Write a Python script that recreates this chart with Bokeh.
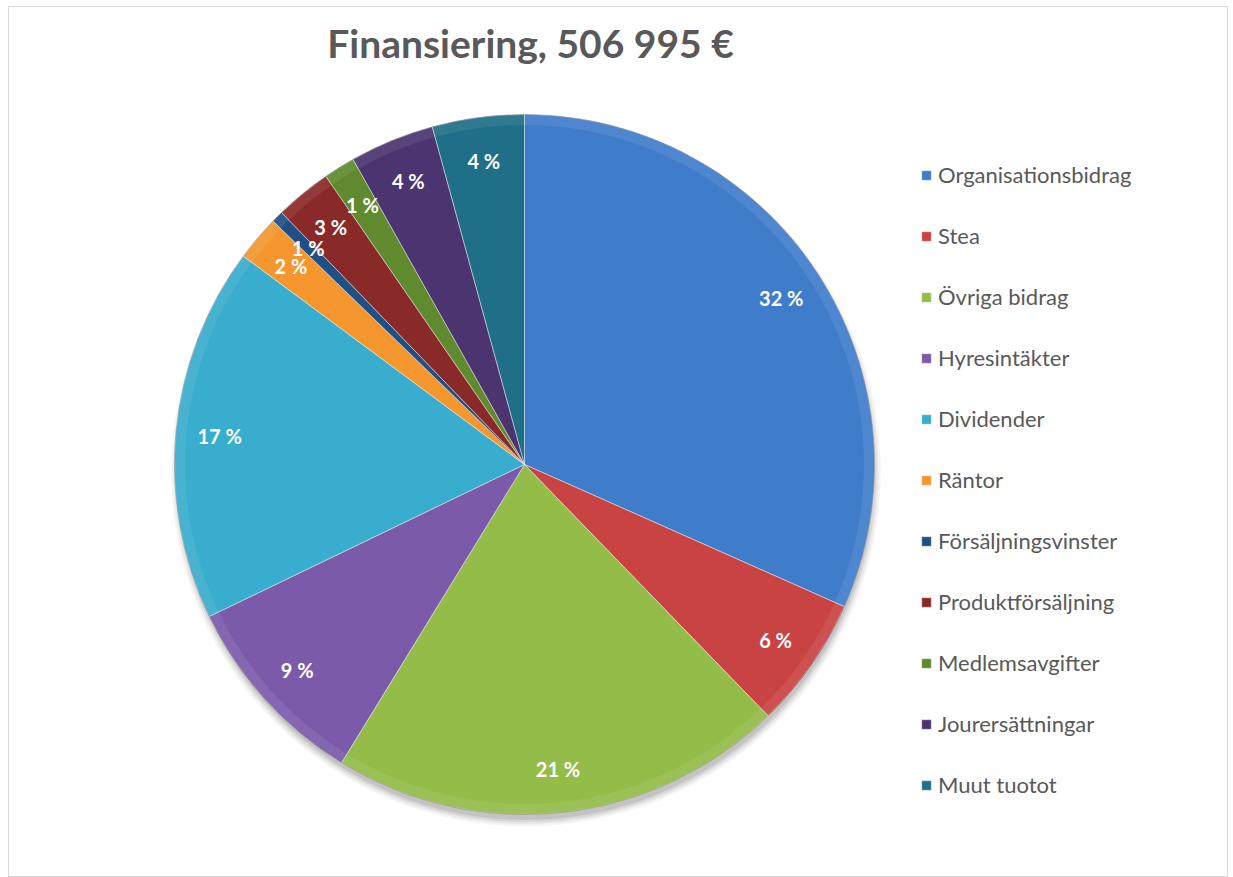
import math
import numpy as np
from bokeh.plotting import figure
from bokeh.models import ColumnDataSource, Range1d, Legend, LegendItem, Label
from bokeh.core.properties import value
from bokeh.embed import file_html
from bokeh.resources import INLINE

# ---- data ----
title_text = "Finansiering, 506 995 €"
categories = ["Organisationsbidrag", "Stea", "Övriga bidrag", "Hyresintäkter",
              "Dividender", "Räntor", "Försäljningsvinster", "Produktförsäljning",
              "Medlemsavgifter", "Jourersättningar", "Muut tuotot"]
amounts = [160495, 30900, 106500, 46100, 87700, 10600, 2800, 13200, 7400, 19800, 21500]
colors = ["#3F7DCB", "#C94343", "#93BC48", "#7B5AAA", "#38ADCE", "#F5962E",
          "#204F85", "#8A2A28", "#5F8A2E", "#4B3470", "#1E6F87"]

# ---- geometry (pixels) ----
FW, FH = 1220, 871          # frame size
LB, TB = 8, 6               # left / top border
R_PX = 350.0
CX, CY = 516.0, 458.0       # pie centre in frame px from frame top-left

vals = np.array(amounts, dtype=float)
frac = vals / vals.sum()
cum = np.concatenate([[0.0], np.cumsum(frac)])
start = math.pi / 2 - 2 * math.pi * cum[:-1]
end = math.pi / 2 - 2 * math.pi * cum[1:]
mid = (start + end) / 2
LR = 0.875
src = ColumnDataSource(dict(
    cat=categories, start=start, end=end, color=colors,
    lx=LR * np.cos(mid), ly=LR * np.sin(mid),
    lab=[f"{round(f * 100):.0f} %" for f in frac],
))

p = figure(width=FW + LB, height=FH + TB, output_backend="svg", toolbar_location=None,
           x_range=Range1d(-CX / R_PX, (FW - CX) / R_PX),
           y_range=Range1d(-(FH - CY) / R_PX, CY / R_PX),
           min_border_left=LB, min_border_top=TB, min_border_right=0,
           min_border_bottom=0)
p.axis.visible = False
p.grid.visible = False
p.outline_line_color = "#D9D9D9"
p.outline_line_width = 1
p.background_fill_color = "white"
p.border_fill_color = "white"

# soft shadow
for k, a in enumerate([0.04, 0.05, 0.07, 0.09]):
    p.circle(x=0.004, y=-0.02, radius=1.014 - 0.006 * k, fill_color="#000000",
             fill_alpha=a, line_color=None)

wr = p.wedge(x=0, y=0, radius=1.0, start_angle="start", end_angle="end",
             direction="clock", fill_color="color", line_color="white",
             line_alpha=0.45, line_width=1, source=src)

# bevel-ish rim highlight
p.annular_wedge(x=0, y=0, inner_radius=0.97, outer_radius=1.0,
                start_angle="start", end_angle="end", direction="clock",
                fill_color="white", fill_alpha=0.08, line_color=None, source=src)
p.circle(x=0, y=0, radius=1.0, fill_color=None, line_color="#000000",
         line_alpha=0.22, line_width=1)

p.text(x="lx", y="ly", text="lab", source=src, text_color="white",
       text_font=value("Lato"), text_font_style="bold", text_font_size="20px",
       text_align="center", text_baseline="middle")

p.add_layout(Label(x=6 / R_PX, y=FH - 36, x_units="data", y_units="screen",
                   text=title_text, text_font="Lato", text_font_style="bold",
                   text_font_size="39px", text_color="#595959",
                   text_align="center", text_baseline="middle"))

items = [LegendItem(label=c, renderers=[wr], index=i) for i, c in enumerate(categories)]
legend = Legend(items=items, location=(912, 79), orientation="vertical",
                label_text_font="Lato", label_text_font_size="22px",
                label_text_color="#595959", glyph_width=12, glyph_height=12,
                label_height=26, spacing=34, label_standoff=6, padding=0,
                margin=0, background_fill_alpha=0, border_line_color=None)
p.add_layout(legend)

open("out.html", "w").write(file_html(p, INLINE))
